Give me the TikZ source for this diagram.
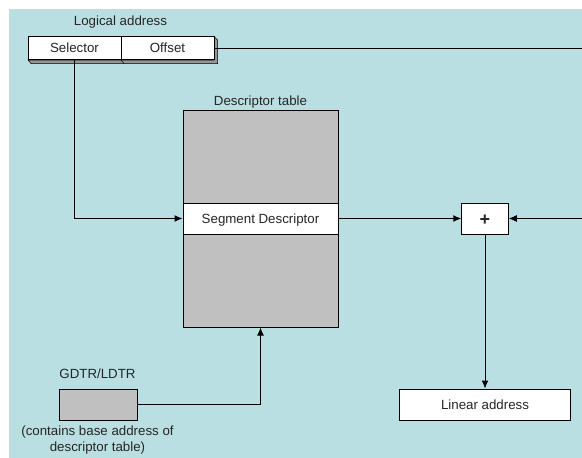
\documentclass[tikz,border=0pt]{standalone}
\usepackage{fontspec}
\setmainfont{Liberation Sans}
\usetikzlibrary{arrows.meta}
\definecolor{bgc}{RGB}{186,223,226}
\definecolor{tbl}{RGB}{192,192,192}
\definecolor{bev}{RGB}{150,150,150}
\tikzset{
 x=1pt,y=-1pt,
 txt/.style={font=\fontsize{13.3}{16}\selectfont,text=black!85,inner sep=0pt,align=center},
 oneline/.style={txt,text height=10pt,text depth=1pt},
 boxw/.style={draw=black,line width=1pt,fill=white,inner sep=0pt,text=black!85,text height=10pt,text depth=1pt,font=\fontsize{13.3}{16}\selectfont},
 boxg/.style={draw=black,line width=1pt,fill=tbl,inner sep=0pt},
 conn/.style={draw=black,line width=1pt},
 arr/.style={conn,-{Latex[length=8pt,width=7pt]}},
}
\begin{document}
\begin{tikzpicture}
\useasboundingbox (0,0) rectangle (582,458);
\fill[bgc] (9,9) rectangle (582,458);
% bevels
\fill[bev,draw=black,line width=0.5pt] (28,60) -- (31,63.5) -- (217.5,63.5) -- (217.5,40) -- (214,36.5) -- (214,60) -- cycle;
\draw[black,line width=0.5pt] (121,60) -- (124,63.5);
\node[boxw,minimum width=93pt,minimum height=23.5pt] (sel) at (74.5,48.2) {Selector};
\node[boxw,minimum width=93pt,minimum height=23.5pt] (off) at (167.5,48.2) {Offset};
\node[oneline] (la) at (120.5,20.5) {Logical address};
\coordinate (offend) at (582,48.2);
\draw[conn] (off.east) -- (offend);
% table
\node[boxg,minimum width=155pt,minimum height=217pt] (table) at (260.5,218.5) {};
\node[boxw,minimum width=155pt,minimum height=31pt] (seg) at (260.5,218.5) {Segment Descriptor};
\node[oneline] (dt) at (260.5,101) {Descriptor table};
\node[boxw,minimum width=46.5pt,minimum height=31pt,text height=13pt,text depth=0pt,font=\fontsize{18}{20}\bfseries\selectfont] (plus) at (485,218.5) {+};
\node[boxw,minimum width=170.5pt,minimum height=31pt] (lin) at (485,404.5) {Linear address};
\node[boxg,minimum width=78pt,minimum height=31pt] (gdtr) at (98,404.5) {};
\node[oneline] (gl) at (97.5,373.5) {GDTR/LDTR};
\node[txt] (gc) at (97.5,440.5) {(contains base address of\\descriptor table)};
\coordinate (rin) at (582,218.5);
\draw[arr] (sel.south) -- (sel.south |- seg.west) -- (seg.west);
\draw[arr] (seg.east) -- (plus.west);
\draw[arr] (rin) -- (plus.east);
\draw[arr] (plus.south) -- (lin.north);
\draw[arr] (gdtr.east) -- (table.south |- gdtr.east) -- (table.south);
\end{tikzpicture}
\end{document}
